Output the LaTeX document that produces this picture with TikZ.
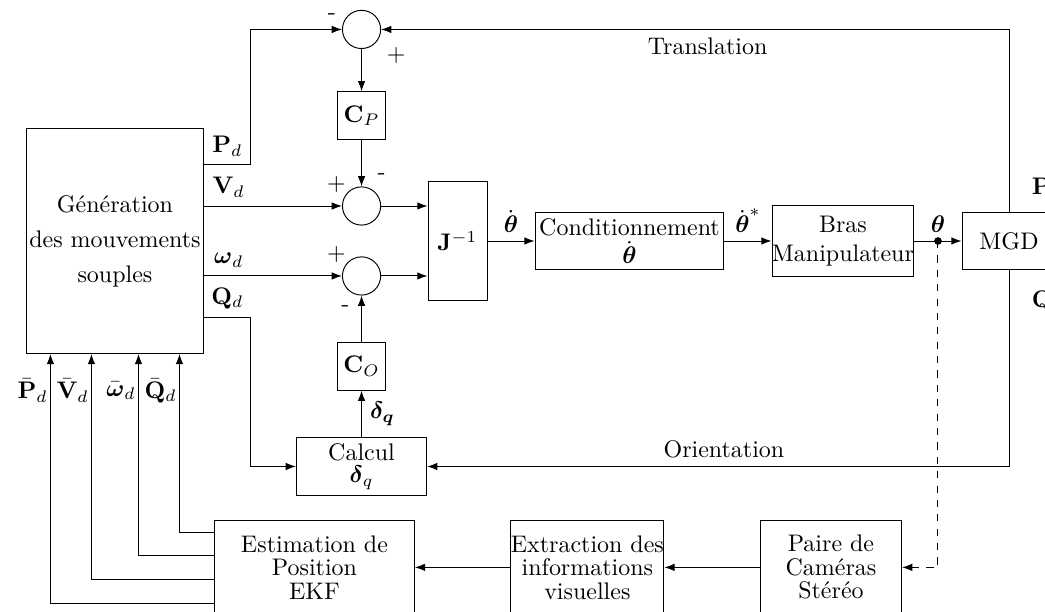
\documentclass[tikz,border=0pt]{standalone}
\usepackage{amsmath, amssymb}
\usepackage{tikz}
\usetikzlibrary{arrows.meta,positioning}

\begin{document}
\begin{tikzpicture}[
    node distance=6.8mm,
    box/.style = {draw, align=center, inner sep=0pt},
    sum/.style = {draw, circle, minimum size=5.6mm, inner sep=0pt},
    gain/.style = {draw, minimum size=7mm, inner sep=0pt},
    >={Latex[length=1.5mm, width=1.1mm]}
  ]
  \useasboundingbox (-67.07mm,35.33mm) rectangle (86.13mm,-54.39mm);
  \node[box, minimum width=8.65mm, minimum height=17.3mm] (jinv) at (0,0) {$\mathbf{J}^{-1}$};
  \node[sum, left=of jinv, yshift=5.13mm, label={[label distance=-4.5pt]145:$+$}, label={67:-}] (sumv) {};
  \node[sum, left=of jinv, yshift=-5.13mm, label={[label distance=-4.5pt]145:$+$}, label={[label distance=1pt]260:-}] (sumw) {};
  \node[gain, above=of sumv] (cp) {$\mathbf{C}_P$};
  \node[sum, above=6.2mm of cp, label={[label distance=-1pt]175:-}, label={-30:$+$}] (sump) {};
  \node[gain, below=of sumw] (co) {$\mathbf{C}_O$};
  \node[box, below=of co, minimum width=19.1mm, minimum height=8.5mm] (calc) {Calcul\\[-2.8pt]$\boldsymbol{\delta}_q$};
  \node[box, left=32.8mm of jinv, minimum width=25.9mm, minimum height=33mm] (gen) {Génération\\[2.6pt]des mouvements\\[2.6pt]souples};
  \node[box, right=6.9mm of jinv, minimum width=27.7mm, minimum height=8.5mm] (cond) {Conditionnement\\$\dot{\boldsymbol{\theta}}$};
  \node[box, right=6.9mm of cond, minimum width=20.8mm, minimum height=10.4mm] (bras) {Bras\\Manipulateur};
  \node[box, right=6.9mm of bras, minimum width=13.8mm, minimum height=8.5mm] (mgd) {MGD};
  \node[box, below=3.5mm of calc, xshift=-6.9mm, minimum width=29.3mm, minimum height=13.8mm] (ekf) {Estimation de\\[-2.2pt]Position\\[-2.2pt]EKF};
  \node[box, right=14mm of ekf, minimum width=22.4mm, minimum height=13.8mm] (ext) {Extraction des\\[-2.2pt]informations\\[-2.2pt]visuelles};
  \node[box, right=14mm of ext, minimum width=20.7mm, minimum height=13.8mm] (paire) {Paire de\\[-2.2pt]Caméras\\[-2.2pt]Stéréo};

  \draw[->] ([yshift=11.2mm]gen.east) -- ++(6.9mm,0) node[midway, above] {$\mathbf{P}_d$} |- (sump);
  \draw[->] (gen.east |- sumv) -- node[above, pos=0.18] {$\mathbf{V}_d$} (sumv);
  \draw[->] (gen.east |- sumw) -- node[above, pos=0.18] {$\boldsymbol{\omega}_d$} (sumw);
  \draw[->] ([yshift=-11.2mm]gen.east) -- ++(6.9mm,0) node[midway, above] {$\mathbf{Q}_d$} |- (calc);
  \draw[->] (sump) -- (cp);
  \draw[->] (cp) -- (sumv);
  \draw[->] (sumv) -- (sumv -| jinv.west);
  \draw[->] (sumw) -- (sumw -| jinv.west);
  \draw[->] (co) -- (sumw);
  \draw[->] (calc) -- node[right] {$\boldsymbol{\delta_q}$} (co);
  \draw[->] (jinv) -- node[above] {$\dot{\boldsymbol{\theta}}$} (cond);
  \draw[->] (cond) -- node[above] {$\dot{\boldsymbol{\theta}}^*$} (bras);
  \draw[->] (bras) -- coordinate[pos=0.5] (tap) node[midway, above] {$\boldsymbol{\theta}$} (mgd);
  \fill (tap) circle (1.6pt);
  \draw[->, dashed] (tap) |- (paire);
  \draw[->] (paire) -- (ext);
  \draw[->] (ext) -- (ekf);
  \draw[->] (mgd.north) |- node[pos=0.07, right=6pt] {$\mathbf{P}$} node[pos=0.74, below] {Translation} (sump);
  \draw[->] (mgd.south) |- node[pos=0.08, right=6pt] {$\mathbf{Q}$} node[pos=0.745, above] {Orientation} (calc);
  \foreach \dy/\dx/\lab in {5.13/9.46/{$\bar{\mathbf{Q}}_d$}, 1.76/3.45/{$\bar{\boldsymbol{\omega}}_d$}, -1.76/-3.45/{$\bar{\mathbf{V}}_d$}, -5.28/-9.46/{$\bar{\mathbf{P}}_d$}}
    \draw[->] ([yshift=\dy mm]ekf.west) -| ([xshift=\dx mm, yshift=-5.4mm]gen.south) node[left, inner sep=1pt] {\lab} -- ([xshift=\dx mm]gen.south);
\end{tikzpicture}
\end{document}
